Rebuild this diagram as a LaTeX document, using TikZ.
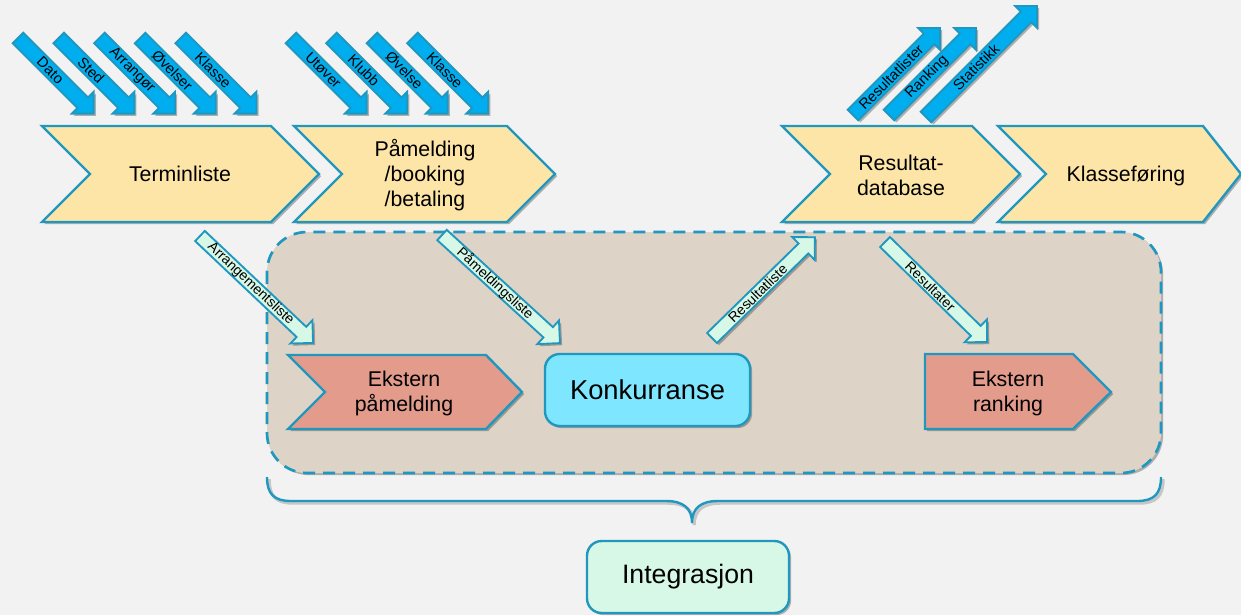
\documentclass[tikz,border=0pt]{standalone}
\usepackage{fontspec}
\setmainfont{Liberation Sans}
\usetikzlibrary{calc,shadows}
\definecolor{bg}{HTML}{F2F2F2}
\definecolor{edge}{HTML}{1F97BF}
\definecolor{chevfill}{HTML}{FCE5A7}
\definecolor{bluearr}{HTML}{00AEEF}
\definecolor{mint}{HTML}{D7F8E7}
\definecolor{taupe}{HTML}{DED3C7}
\definecolor{cyanbox}{HTML}{7FE6FF}
\definecolor{salmon}{HTML}{E39C8C}
\tikzset{
  shad/.style={drop shadow={shadow xshift=1.6pt,shadow yshift=-1.6pt,opacity=0.28,fill=black}},
  chev/.style={draw=edge,line width=1.8pt,fill=chevfill,shad},
  ekst/.style={draw=edge,line width=1.8pt,fill=salmon,shad},
  bigtext/.style={font=\fontsize{16}{18.75}\selectfont,align=center,inner sep=0pt},
  boxnode/.style={draw=edge,line width=1.8pt,rounded corners=11pt,shad,inner sep=0pt},
  bluestyle/.style={draw=edge,line width=1.4pt,fill=bluearr,shad},
  greenstyle/.style={draw=edge,line width=1.4pt,fill=mint,shad},
  bluetext/.style={font=\fontsize{11}{13}\selectfont,inner sep=0pt},
  greentext/.style={font=\fontsize{10.5}{12.5}\selectfont,inner sep=0pt},
  dashbox/.style={draw=edge,line width=2pt,dash pattern=on 9pt off 6pt,fill=taupe,rounded corners=30pt,shad},
  bracestyle/.style={draw=edge,line width=1.8pt},
  braceshadow/.style={draw=black,opacity=0.18,line width=2.4pt,shift={(1.6pt,-1.6pt)}}
}
% fat arrow: #1 name, #2 tail centre, #3 angle, #4 length, #5 style, #6 text style, #7 text
\newcommand\farrow[7]{%
  \coordinate (#1-a) at (#2);
  \coordinate (#1-b) at ($(#1-a)+(#3:#4)$);
  \coordinate (#1-c) at ($(#1-b)!\arrhl!(#1-a)$);
  \draw[#5] ($(#1-a)!\arrsw!-90:(#1-b)$) -- ($(#1-c)!\arrsw!-90:(#1-b)$) -- ($(#1-c)!\arrhw!-90:(#1-b)$) -- (#1-b) -- ($(#1-c)!\arrhw!90:(#1-b)$) -- ($(#1-c)!\arrsw!90:(#1-b)$) -- ($(#1-a)!\arrsw!90:(#1-b)$) -- cycle;
  \node[#6,rotate=#3] (#1) at ($(#1-a)!0.5!(#1-c)$) {#7};
}
\newcommand\bracepath{(267,-477) .. controls (267,-494) and (274,-501) .. (291,-501) -- (666,-501)
  .. controls (683,-501) and (692,-508) .. (692,-523)
  .. controls (692,-508) and (701,-501) .. (718,-501) -- (1137,-501)
  .. controls (1154,-501) and (1161,-494) .. (1161,-477)}
\begin{document}
\begin{tikzpicture}[x=0.75pt,y=0.75pt]
\useasboundingbox (0,0) rectangle (1241,-615);
\fill[bg] (0,0) rectangle (1241,-615);

% integration area
\draw[dashbox] (267,-232) rectangle (1161,-473);
\draw[braceshadow] \bracepath;
\draw[bracestyle] \bracepath;

% chevrons
\draw[chev] (42,-126) -- (271,-126) -- (319,-174) -- (271,-222) -- (42,-222) -- (90,-174) -- cycle;
\node[bigtext] (term) at (180,-174) {Terminliste};
\draw[chev] (294,-126) -- (507,-126) -- (555,-174) -- (507,-222) -- (294,-222) -- (342,-174) -- cycle;
\node[bigtext] (paam) at (425,-175) {Påmelding\\/booking\\/betaling};
\draw[chev] (782,-126) -- (972,-126) -- (1020,-174) -- (972,-222) -- (782,-222) -- (830,-174) -- cycle;
\node[bigtext] (resdb) at (901,-175) {Resultat-\\database};
\draw[chev] (998,-126) -- (1203,-126) -- (1241,-174) -- (1203,-222) -- (998,-222) -- (1046,-174) -- cycle;
\node[bigtext] (klasse) at (1126,-176) {Klasseføring};

% inner shapes
\draw[ekst] (288,-355) -- (486,-355) -- (522,-392) -- (486,-429) -- (288,-429) -- (325,-392) -- cycle;
\node[bigtext] (ekstp) at (404,-393) {Ekstern\\påmelding};
\draw[ekst] (925,-354) -- (1073,-354) -- (1111,-392) -- (1073,-429) -- (925,-429) -- cycle;
\node[bigtext] (ekstr) at (1008,-393) {Ekstern\\ranking};
\node[boxnode,fill=cyanbox,minimum width=153.75pt,minimum height=54pt,font=\fontsize{20.5}{24}\selectfont] (konk) at (647.5,-390) {Konkurranse};
\node[boxnode,fill=mint,minimum width=151.5pt,minimum height=54pt,font=\fontsize{20}{24}\selectfont] (integ) at (688,-577) {Integrasjon};

% green arrows
\def\arrsw{5.25pt}\def\arrhw{12pt}\def\arrhl{12pt}
\farrow{arrl}{200,-236}{-43.4}{155.6}{greenstyle}{greentext}{Arrangementsliste}
\farrow{paml}{442,-235}{-42.5}{160}{greenstyle}{greentext}{Påmeldingsliste}
\farrow{resl}{712,-338}{44.4}{144}{greenstyle}{greentext}{Resultatliste}
\farrow{resr}{885,-242}{-44.4}{143}{greenstyle}{greentext}{Resultater}

% blue arrows
\def\arrsw{5.6pt}\def\arrhw{11.6pt}\def\arrhl{11.6pt}
\farrow{dato}{18,-38}{-45}{107}{bluestyle}{bluetext}{Dato}
\farrow{sted}{58.7,-38}{-45}{107}{bluestyle}{bluetext}{Sted}
\farrow{arr}{99.4,-38}{-45}{107}{bluestyle}{bluetext}{Arrangør}
\farrow{ovl}{140.1,-38}{-45}{107}{bluestyle}{bluetext}{Øvelser}
\farrow{kl1}{180.8,-38}{-45}{107}{bluestyle}{bluetext}{Klasse}
\farrow{utov}{291,-38}{-45}{107}{bluestyle}{bluetext}{Utøver}
\farrow{klubb}{331.5,-38}{-45}{107}{bluestyle}{bluetext}{Klubb}
\farrow{ovl2}{372,-38}{-45}{107}{bluestyle}{bluetext}{Øvelse}
\farrow{kl2}{412.5,-38}{-45}{107}{bluestyle}{bluetext}{Klasse}
\farrow{rlist}{853,-115}{45}{123}{bluestyle}{bluetext}{Resultatlister}
\farrow{rank}{889,-115}{45}{123}{bluestyle}{bluetext}{Ranking}
\farrow{stat}{926,-117}{45}{157}{bluestyle}{bluetext}{Statistikk}
\end{tikzpicture}
\end{document}
